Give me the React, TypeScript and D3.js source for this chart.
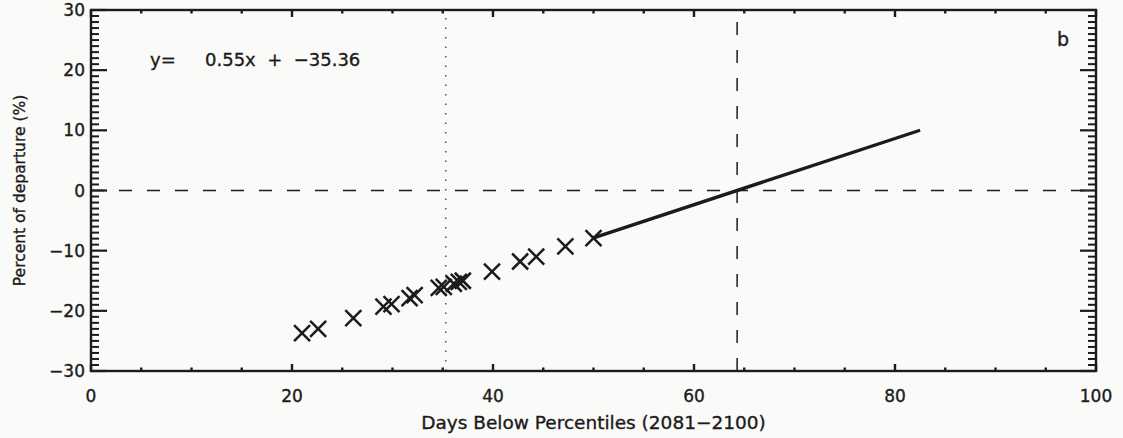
import React from "react";
import * as d3 from "d3";

// Days below percentile (x) and percent of departure (y) for each sample
const daysBelow = [21.0, 22.6, 26.1, 29.1, 29.9, 31.7, 32.2, 34.6, 35.1, 36.1, 36.6, 37.0, 39.9, 42.7, 44.3, 47.2, 50.0];
const departure = [-23.7, -23.0, -21.2, -19.3, -18.9, -17.9, -17.4, -16.2, -16.0, -15.5, -15.2, -15.0, -13.5, -11.8, -11.0, -9.3, -7.9];

// Regression fit and the range it is drawn over
const slope = 0.55;
const intercept = -35.36;
const fitRange = [50.0, 82.5];

// Reference lines
const meanDays = 35.3;
const zeroCrossing = -intercept / slope;

const xTicks = [0, 20, 40, 60, 80, 100];
const yTicks = [30, 20, 10, 0, -10, -20, -30];

const W = 1123;
const H = 438;
const M = { left: 91, right: 1096, top: 10, bottom: 371 };
const FONT = "'DejaVu Sans', sans-serif";
const INK = "#1b1b1b";

const fmt = (v: number) => (v < 0 ? "\u2212" + Math.abs(v) : String(v));

const textStyle = {
  fontFamily: FONT,
  fill: INK,
  stroke: INK,
  strokeWidth: 0.35,
};

export default function App() {
  const x = d3.scaleLinear().domain([0, 100]).range([M.left, M.right]);
  const y = d3.scaleLinear().domain([-30, 30]).range([M.bottom, M.top]);

  const xMinor = d3.range(0, 101, 5).filter((v) => v % 20 !== 0);
  const yMinor = d3.range(-30, 31, 1).filter((v) => v % 10 !== 0);

  const fitLine = d3
    .line<number>()
    .x((d) => x(d))
    .y((d) => y(slope * d + intercept));

  const cross = 8;

  return (
    <svg
      width={W}
      height={H}
      style={{ position: "absolute", left: 0, top: 0, background: "#fafaf8" }}
    >
      {/* zero line */}
      <line x1={x(0)} x2={x(100)} y1={y(0)} y2={y(0)} stroke={INK} strokeWidth={1.5} strokeDasharray="13 15" />
      {/* mean days line */}
      <line x1={x(meanDays)} x2={x(meanDays)} y1={y(-30)} y2={y(30)} stroke="#555" strokeWidth={1.5} strokeDasharray="1.5 8" />
      {/* zero crossing of the fit */}
      <line x1={x(zeroCrossing)} x2={x(zeroCrossing)} y1={y(-30)} y2={y(30)} stroke={INK} strokeWidth={1.5} strokeDasharray="13 15" />

      {/* fit */}
      <path d={fitLine(fitRange) || ""} fill="none" stroke={INK} strokeWidth={3.4} />

      {/* samples */}
      {daysBelow.map((d, i) => {
        const cx = x(d);
        const cy = y(departure[i]);
        return (
          <g key={i} stroke={INK} strokeWidth={2.5}>
            <line x1={cx - cross} y1={cy - cross} x2={cx + cross} y2={cy + cross} />
            <line x1={cx - cross} y1={cy + cross} x2={cx + cross} y2={cy - cross} />
          </g>
        );
      })}

      {/* frame */}
      <rect x={M.left} y={M.top} width={M.right - M.left} height={M.bottom - M.top} fill="none" stroke={INK} strokeWidth={2.4} />

      {/* x ticks, bottom and top */}
      {xTicks.map((v) => (
        <g key={"xt" + v} stroke={INK} strokeWidth={2.4}>
          <line x1={x(v)} x2={x(v)} y1={M.bottom} y2={M.bottom - 7} />
          <line x1={x(v)} x2={x(v)} y1={M.top} y2={M.top + 7} />
        </g>
      ))}
      {xMinor.map((v) => (
        <g key={"xm" + v} stroke={INK} strokeWidth={2.4}>
          <line x1={x(v)} x2={x(v)} y1={M.bottom} y2={M.bottom - 3.5} />
          <line x1={x(v)} x2={x(v)} y1={M.top} y2={M.top + 3.5} />
        </g>
      ))}

      {/* y ticks, left and right */}
      {yTicks.map((v) => (
        <g key={"yt" + v} stroke={INK} strokeWidth={2.2}>
          <line x1={M.left} x2={M.left + 16} y1={y(v)} y2={y(v)} />
          <line x1={M.right} x2={M.right - 16} y1={y(v)} y2={y(v)} />
        </g>
      ))}
      {yMinor.map((v) => (
        <g key={"ym" + v} stroke={INK} strokeWidth={2}>
          <line x1={M.left} x2={M.left + 8} y1={y(v)} y2={y(v)} />
          <line x1={M.right} x2={M.right - 8} y1={y(v)} y2={y(v)} />
        </g>
      ))}

      {/* tick labels */}
      {xTicks.map((v) => (
        <text key={"xl" + v} x={x(v)} y={M.bottom + 31} textAnchor="middle" fontSize={17} {...textStyle}>
          {fmt(v)}
        </text>
      ))}
      {yTicks.map((v) => (
        <text key={"yl" + v} x={M.left - 6} y={y(v)} dy="0.36em" textAnchor="end" fontSize={17} {...textStyle}>
          {fmt(v)}
        </text>
      ))}

      {/* axis titles */}
      <text x={(M.left + M.right) / 2} y={H - 9} textAnchor="middle" fontSize={18.5} {...textStyle}>
        Days Below Percentiles (2081{"\u2212"}2100)
      </text>
      <text
        transform={`translate(25,${(M.top + M.bottom) / 2}) rotate(-90)`}
        textAnchor="middle"
        fontSize={15.5}
        {...textStyle}
      >
        Percent of departure (%)
      </text>

      {/* regression equation */}
      <text x={150} y={66} fontSize={18} {...textStyle}>y=</text>
      <text x={205} y={66} fontSize={18} {...textStyle} xmlSpace="preserve">
        {`${slope.toFixed(2)}x  +  ${"\u2212"}${Math.abs(intercept).toFixed(2)}`}
      </text>

      {/* panel letter */}
      <text x={1063} y={46} textAnchor="middle" fontSize={19} {...textStyle}>b</text>
    </svg>
  );
}
